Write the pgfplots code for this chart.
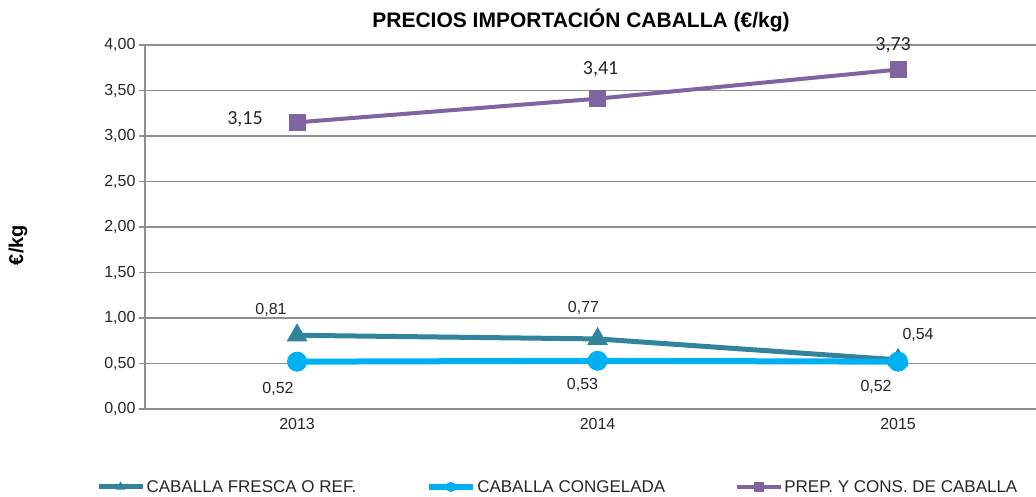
\documentclass[border=0pt]{standalone}
\usepackage{pgfplots}
\pgfplotsset{compat=1.18}
\usepackage{fontspec}
\setmainfont{Liberation Sans}
\newfontfamily\calibri{Carlito}

\definecolor{fresca}{HTML}{31849B}
\definecolor{congel}{HTML}{00B0F0}
\definecolor{prep}{HTML}{8064A2}
\definecolor{gridc}{HTML}{8E8E8E}
\definecolor{txt}{HTML}{262626}

\newcommand{\lbl}{\fontsize{16bp}{19bp}\selectfont\color{txt}}
\newcommand{\plbl}{\calibri\fontsize{20bp}{24bp}\selectfont\color{txt}}

\begin{document}
\begin{tikzpicture}
\useasboundingbox (-145bp,-88bp) rectangle (891bp,409bp);
\begin{axis}[
    at={(0,0)}, anchor=south west,
    scale only axis, width=891bp, height=364bp,
    xmin=2012.494, xmax=2015.459,
    ymin=0, ymax=4,
    xtick={2013,2014,2015}, xticklabels={2013,2014,2015},
    ytick={0,0.5,...,4},
    /pgf/number format/assume math mode=true,
    yticklabel style={/pgf/number format/.cd, fixed, fixed zerofill, precision=2, use comma},
    ticklabel style={font=\lbl},
    axis x line*=bottom, axis y line*=left,
    axis line style={gridc, line width=1.2bp},
    ymajorgrids, grid style={gridc, line width=1.2bp},
    tick align=outside, major tick length=6bp,
    ytick style={gridc, line width=1.2bp},
    xtick style={draw=none},
    clip=false,
    legend columns=3,
    legend style={at={(-0.0585,-0.214)}, anchor=west, draw=none, fill=none,
        font=\fontsize{17bp}{20bp}\selectfont\color{txt},
        nodes={inner sep=1.5bp},
        /tikz/every even column/.append style={column sep=68bp}},
    legend image code/.code={\draw[mark repeat=2, mark phase=2, #1, mark size=4.5bp]
        plot coordinates {(0bp,0bp) (22bp,0bp) (44bp,0bp)};},
]
\addplot[fresca, line width=5bp, mark=triangle*, mark size=11bp, mark options={solid, line width=1bp}]
    coordinates {(2013,0.81) (2014,0.77) (2015,0.54)};
\addlegendentry{CABALLA FRESCA O REF.}
\addplot[congel, line width=6bp, mark=*, mark size=9.5bp, mark options={solid, line width=1bp}]
    coordinates {(2013,0.52) (2014,0.53) (2015,0.52)};
\addlegendentry{CABALLA CONGELADA}
\addplot[prep, line width=4bp, mark=square*, mark size=8bp, mark options={solid, line width=1bp}]
    coordinates {(2013,3.15) (2014,3.41) (2015,3.73)};
\addlegendentry{PREP. Y CONS. DE CABALLA}

\node[font=\lbl, xshift=-26bp, yshift=25bp] at (axis cs:2013,0.81) {0,81};
\node[font=\lbl, xshift=-14bp, yshift=31bp] at (axis cs:2014,0.77) {0,77};
\node[font=\lbl, xshift=20bp, yshift=25bp] at (axis cs:2015,0.54) {0,54};
\node[font=\lbl, xshift=-19bp, yshift=-27bp] at (axis cs:2013,0.52) {0,52};
\node[font=\lbl, xshift=-15bp, yshift=-24bp] at (axis cs:2014,0.53) {0,53};
\node[font=\lbl, xshift=-22bp, yshift=-25bp] at (axis cs:2015,0.52) {0,52};
\node[font=\plbl, xshift=-52bp, yshift=3bp] at (axis cs:2013,3.15) {3,15};
\node[font=\plbl, xshift=3bp, yshift=29bp] at (axis cs:2014,3.41) {3,41};
\node[font=\plbl, xshift=-5bp, yshift=24bp] at (axis cs:2015,3.73) {3,73};
\end{axis}
\node[font=\bfseries\fontsize{21bp}{25bp}\selectfont] at (436bp,389bp) {PRECIOS IMPORTACIÓN CABALLA (€/kg)};
\node[font=\bfseries\fontsize{20bp}{24bp}\selectfont, rotate=90] at (-127bp,164bp) {€/kg};
\end{tikzpicture}
\end{document}
